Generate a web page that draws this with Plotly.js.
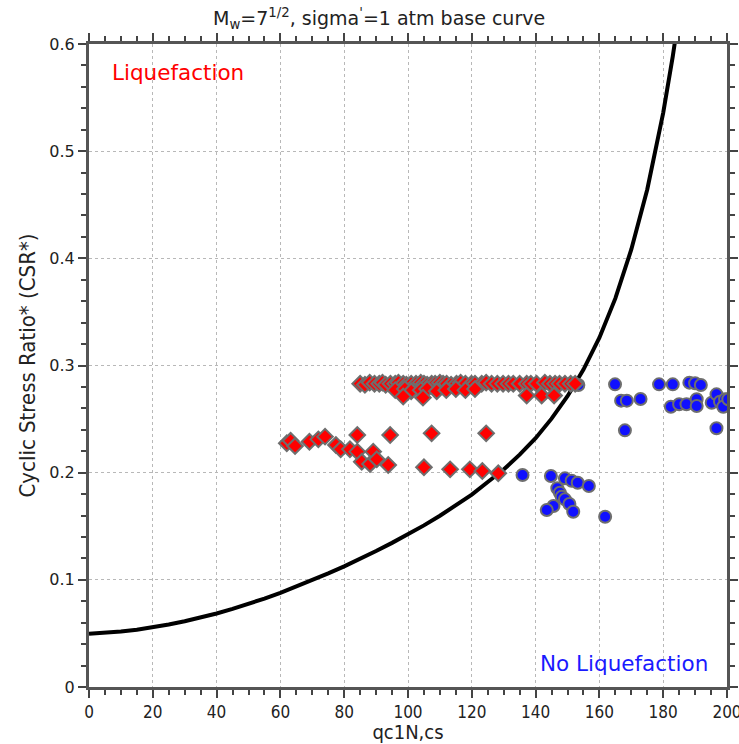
<!DOCTYPE html>
<html>
<head>
<meta charset="utf-8">
<script src="https://cdn.plot.ly/plotly-3.0.1.min.js"></script>
<style>html,body{margin:0;padding:0;background:#fff;}#chart{width:739px;height:744px;}</style>
</head>
<body>
<div id="chart"></div>
<script>
// Base curve
var curveQ = [0,5,10,15,20,25,30,35,40,45,50,55,60,65,70,75,80,85,90,95,100,105,110,115,120,125,130,135,140,145,150,155,160,165,170,175,180,183,185];
var curveCSR = [0.0498,0.0505,0.0518,0.0535,0.0557,0.0583,0.0613,0.0648,0.0686,0.0729,0.0775,0.0825,0.0879,0.0936,0.0996,0.1060,0.1126,0.1195,0.1269,0.1345,0.1425,0.1508,0.1598,0.1694,0.1795,0.1913,0.2029,0.2168,0.2322,0.2504,0.2713,0.2962,0.3260,0.3626,0.4083,0.4642,0.5358,0.5884,0.6288];

// Liquefaction cases (red diamonds)
var liqQ = [85,86.5,88,89.5,91,92,93,94.5,96,97,98.5,99.5,101,102.5,104,105,106,107.4,108.5,110,111,112.1,113.5,115.2,116.5,118,119.9,121,123.1,124.5,126.2,128,129.8,131.5,133,135,137.2,138.5,140.3,142.9,144.5,146.1,147.5,149.2,151,152.4,
  96,99,101,104,106,109,112,115,118,121,98.5,104.7,137.2,141.9,145.8,
  62.0,63.2,64.6,69.1,71.9,74.0,77.4,78.9,81.8,84.1,84.1,85.5,88.1,89.1,90.2,93.8,94.4,107.4,124.5,105.0,113.2,119.4,123.3,128.3];
var liqCSR = [0.283,0.282,0.284,0.283,0.283,0.284,0.282,0.283,0.283,0.284,0.283,0.282,0.283,0.283,0.284,0.283,0.282,0.283,0.283,0.284,0.283,0.283,0.282,0.283,0.284,0.283,0.283,0.283,0.283,0.284,0.283,0.283,0.283,0.283,0.283,0.283,0.283,0.283,0.283,0.284,0.283,0.283,0.283,0.283,0.283,0.283,
  0.277,0.278,0.276,0.277,0.278,0.276,0.277,0.278,0.277,0.278,0.271,0.270,0.272,0.272,0.272,
  0.2274,0.2298,0.2249,0.2289,0.2311,0.2336,0.2258,0.2218,0.2218,0.2351,0.2196,0.2102,0.2081,0.2196,0.2125,0.2072,0.2351,0.2367,0.2367,0.205,0.2031,0.2031,0.2015,0.1994];

// No-liquefaction cases (blue circles)
var noLiqQ = [153.4,164.9,166.8,168.6,172.9,168.0,178.7,183.0,188.2,190.0,191.8,182.4,185.0,187.3,190.5,190.5,195.2,196.7,197.8,199.4,198.8,196.7,200.4,
  135.9,144.8,149.2,151.3,153.2,156.7,146.8,147.6,148.2,149.2,150.6,145.6,143.5,151.8,161.8];
var noLiqCSR = [0.2818,0.2824,0.2672,0.2672,0.2687,0.2395,0.2824,0.2824,0.2840,0.2834,0.2818,0.2615,0.2638,0.2638,0.2685,0.2622,0.2653,0.2731,0.2662,0.2685,0.2615,0.2414,0.2685,
  0.1978,0.1969,0.1947,0.1925,0.1906,0.1876,0.1854,0.1813,0.1776,0.1751,0.1708,0.1689,0.1652,0.1636,0.1589];

var titleText = 'M<sub>w</sub>=7<sup>1/2</sup>, sigma<sup>\'</sup>=1 atm base curve';
var narrow = 'DejaVu Sans Condensed, Liberation Sans, Arial, sans-serif';

var traces = [
  {x: curveQ, y: curveCSR, mode: 'lines', type: 'scatter', line: {color: '#000', width: 4}, hoverinfo: 'skip'},
  {x: noLiqQ, y: noLiqCSR, mode: 'markers', type: 'scatter',
   marker: {symbol: 'circle', size: 12, color: '#1010ff', line: {color: '#6e6e6e', width: 2}}},
  {x: liqQ, y: liqCSR, mode: 'markers', type: 'scatter',
   marker: {symbol: 'diamond', size: 12, color: '#ff0000', line: {color: '#6e6e6e', width: 2}}}
];

var axisCommon = {
  showline: true, linecolor: '#555', linewidth: 3, mirror: 'ticks',
  ticks: 'outside', ticklen: 8, tickwidth: 2, tickcolor: '#444',
  showgrid: true, gridcolor: '#b8b8b8', griddash: '3px,3px', gridwidth: 1,
  zeroline: false, ticklabeloverflow: 'allow'
};

var layout = {
  width: 739, height: 744,
  margin: {l: 89, r: 12, t: 44, b: 57},
  paper_bgcolor: '#fff', plot_bgcolor: '#fff',
  showlegend: false,
  title: {text: titleText, x: 0.513, xref: 'container', xanchor: 'center', y: 0.975, yref: 'container', yanchor: 'middle',
          font: {family: 'DejaVu Sans', size: 19, color: '#222'}},
  xaxis: Object.assign({}, axisCommon, {
    range: [0, 200], dtick: 20, tick0: 0,
    minor: {dtick: 5, ticklen: 5, tickwidth: 2, tickcolor: '#444', showgrid: false},
    tickfont: {family: narrow, size: 17, color: '#222'},
    title: {text: 'qc1N,cs', font: {family: narrow, size: 20, color: '#222'}, standoff: 7}
  }),
  yaxis: Object.assign({}, axisCommon, {
    range: [0, 0.6], dtick: 0.1, tick0: 0,
    minor: {dtick: 0.02, ticklen: 5, tickwidth: 2, tickcolor: '#444', showgrid: false},
    tickfont: {family: 'DejaVu Sans', size: 16, color: '#222'},
    title: {text: 'Cyclic Stress Ratio* (CSR*)', font: {family: narrow, size: 22, color: '#222'}, standoff: 8}
  }),
  annotations: [
    {text: 'Liquefaction', xref: 'paper', yref: 'paper', x: 0.033, y: 0.956, xanchor: 'left', yanchor: 'middle',
     showarrow: false, font: {family: 'DejaVu Sans', size: 21.5, color: '#ff0000'}},
    {text: 'No Liquefaction', xref: 'paper', yref: 'paper', x: 0.973, y: 0.037, xanchor: 'right', yanchor: 'middle',
     showarrow: false, font: {family: 'DejaVu Sans', size: 21.5, color: '#1a1aff'}}
  ]
};

Plotly.newPlot('chart', traces, layout, {displayModeBar: false, staticPlot: true});
</script>
</body>
</html>
